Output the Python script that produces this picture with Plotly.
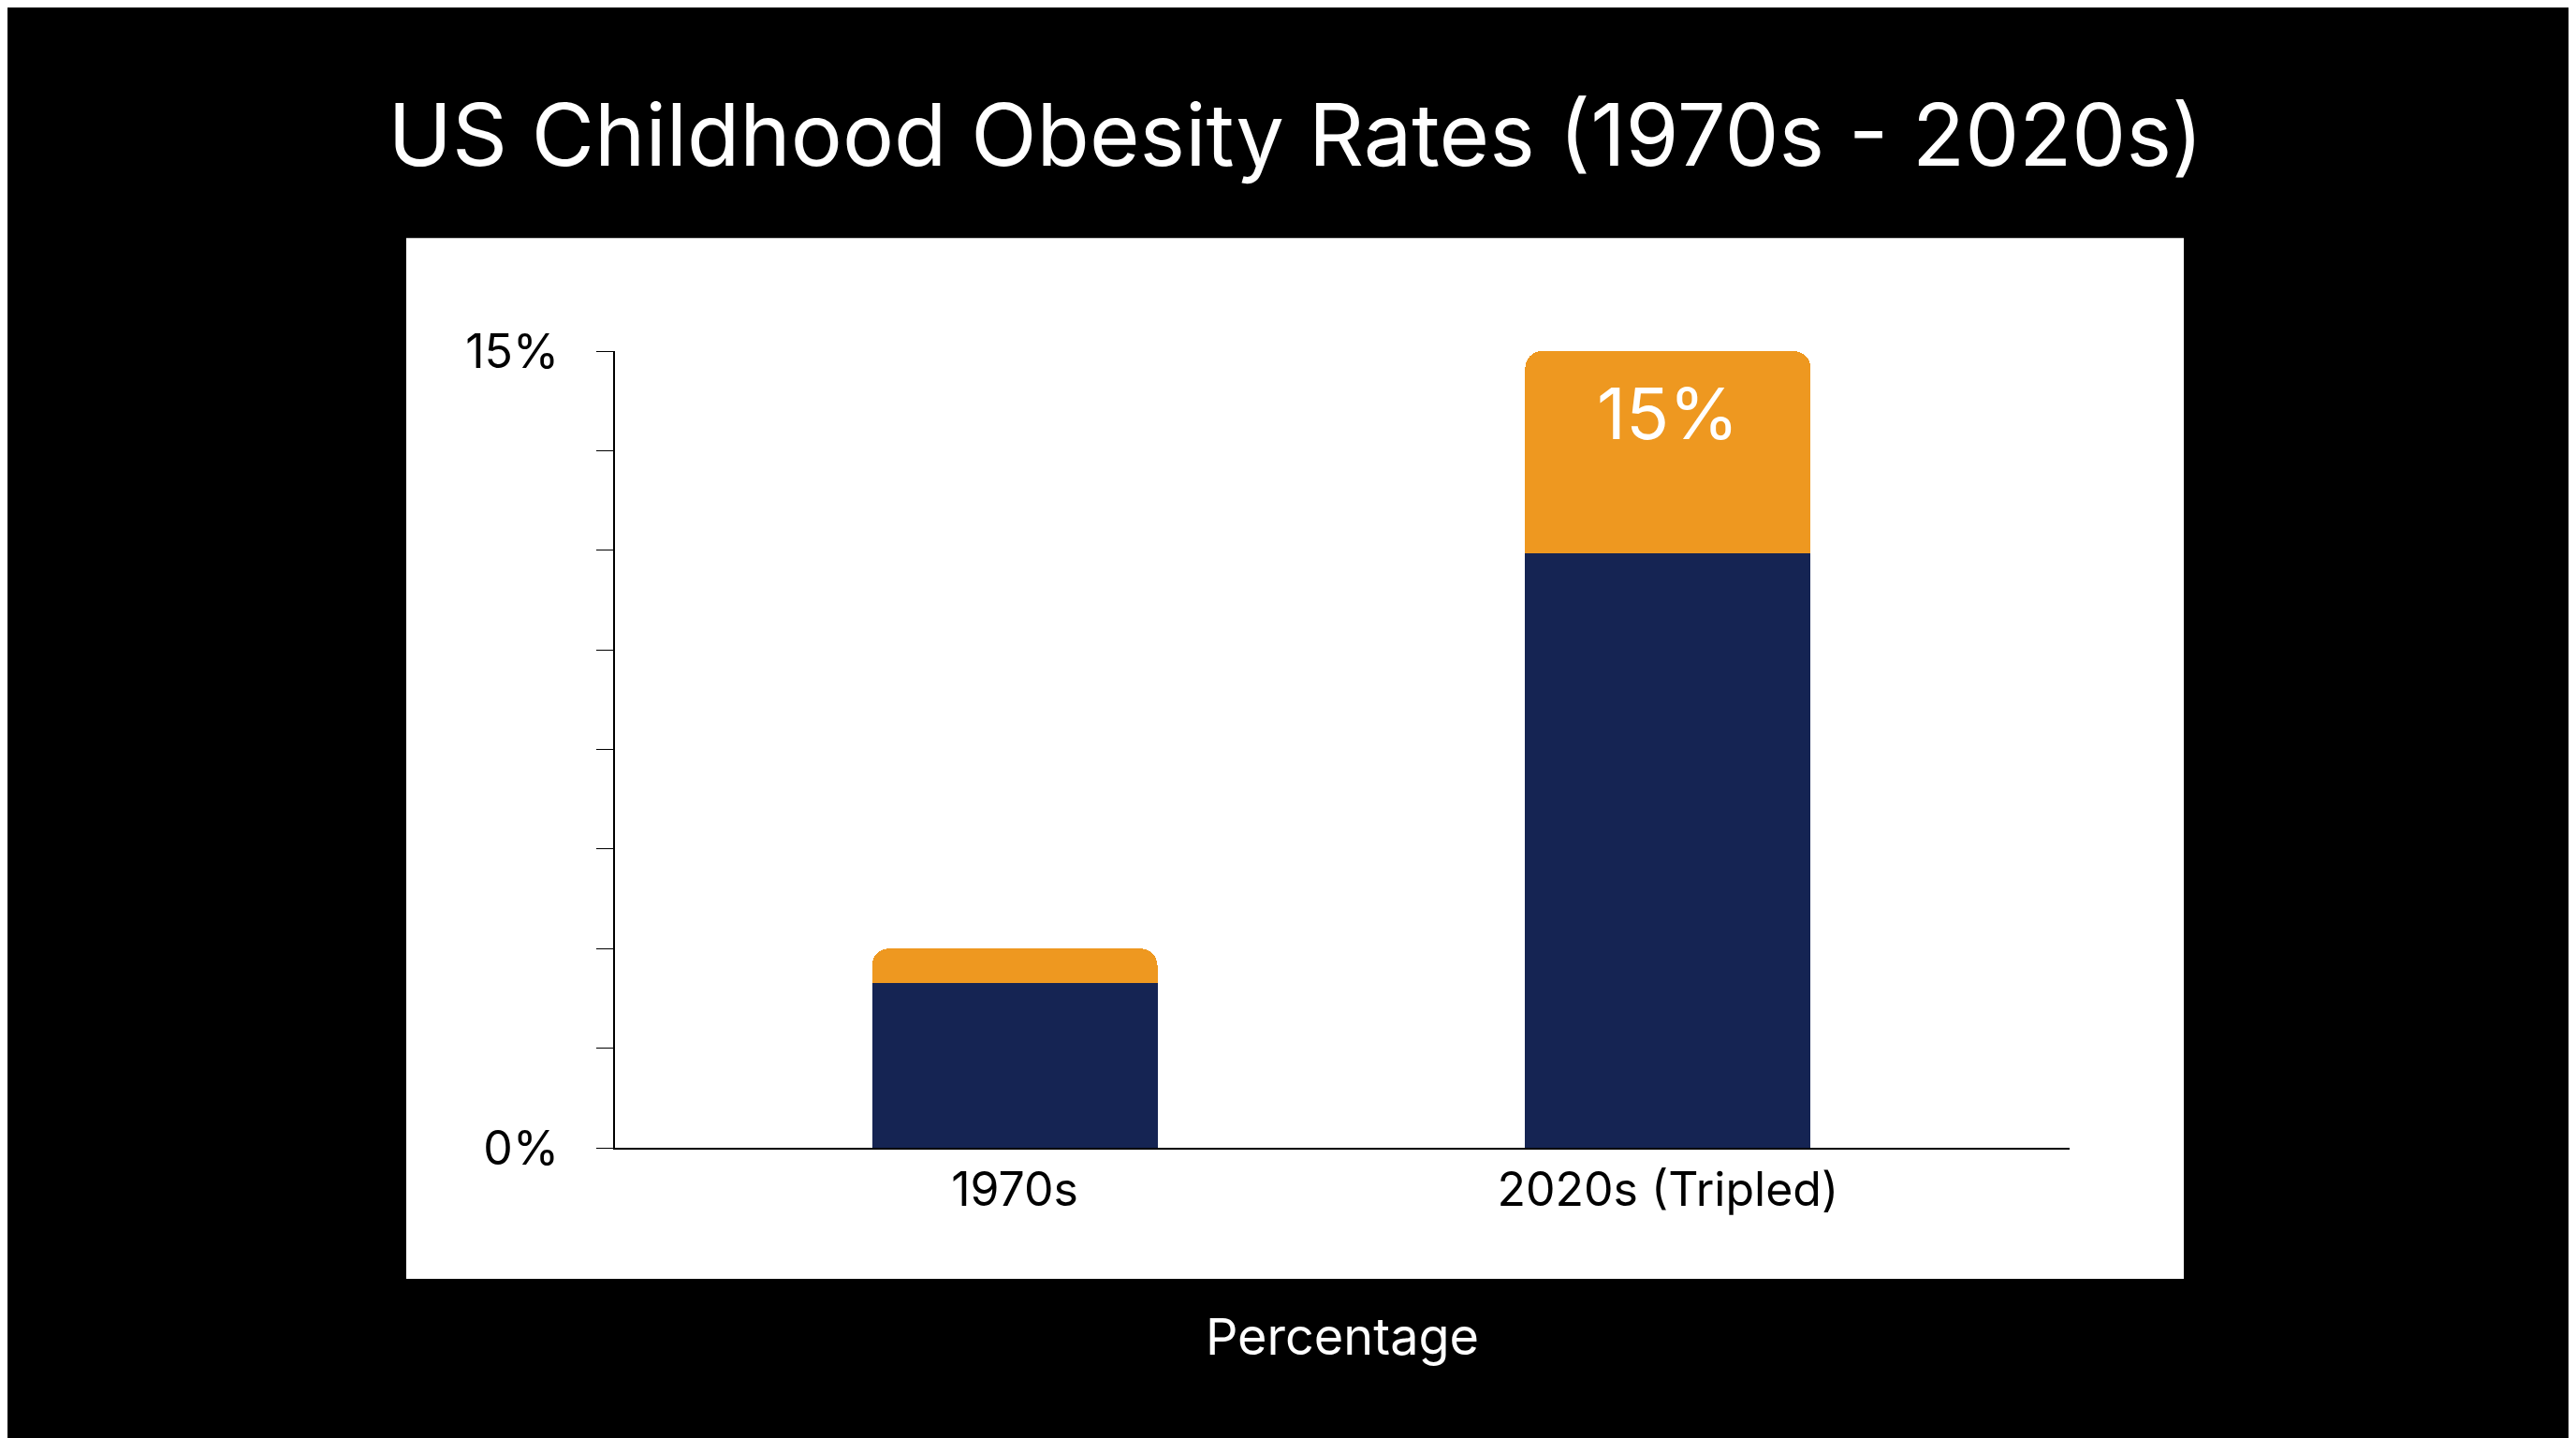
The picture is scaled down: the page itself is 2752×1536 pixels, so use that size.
import plotly.graph_objects as go

categories = ["1970s", "2020s (Tripled)"]
base_values = [3.1, 11.2]
top_values = [0.65, 3.8]
totals = [b + t for b, t in zip(base_values, top_values)]
label_texts = ["", "15%"]
tick_vals = [0, 1.875, 3.75, 5.625, 7.5, 9.375, 11.25, 13.125, 15]
tick_text = ["0%", "", "", "", "", "", "", "", "15%"]

fig = go.Figure()
fig.add_bar(x=categories, y=base_values, marker_color="#152453", width=0.437,
            marker_line_width=0)
fig.add_bar(x=categories, y=top_values, marker_color="#EE9820", width=0.437,
            marker_line_width=0)

fig.add_annotation(x=categories[1], y=totals[1], text=label_texts[1], showarrow=False,
                   yanchor="top", yshift=-18, font=dict(size=76, color="white", family="Inter"))

fig.add_shape(type="rect", xref="paper", yref="paper", x0=-0.1435, x1=1.0785,
              y0=-0.1645, y1=1.142, fillcolor="white", line_width=0, layer="below")

fig.update_layout(
    width=2752, height=1536, barmode="stack", barcornerradius=18, showlegend=False,
    paper_bgcolor="black", plot_bgcolor="rgba(0,0,0,0)",
    margin=dict(l=649, r=549, t=367, b=318),
    font=dict(family="Inter", color="black"),
    title=dict(text="US Childhood Obesity Rates (1970s - 2020s)", x=0.5, xanchor="center",
               y=1 - 137 / 1536, yanchor="middle", font=dict(size=92, color="white", family="Inter")),
    xaxis=dict(range=[-0.612, 1.615], showline=True, linecolor="black", linewidth=2,
               ticks="", tickfont=dict(size=50), showgrid=False,
               title=dict(text="Percentage", font=dict(size=54, color="white"), standoff=110)),
    yaxis=dict(range=[0, 15], tickvals=tick_vals, ticktext=tick_text, showline=True,
               linecolor="black", linewidth=2, ticks="outside", ticklen=18, tickcolor="black",
               tickfont=dict(size=50), ticklabelstandoff=30, showgrid=False, zeroline=False),
)
fig.write_html("out.html")
